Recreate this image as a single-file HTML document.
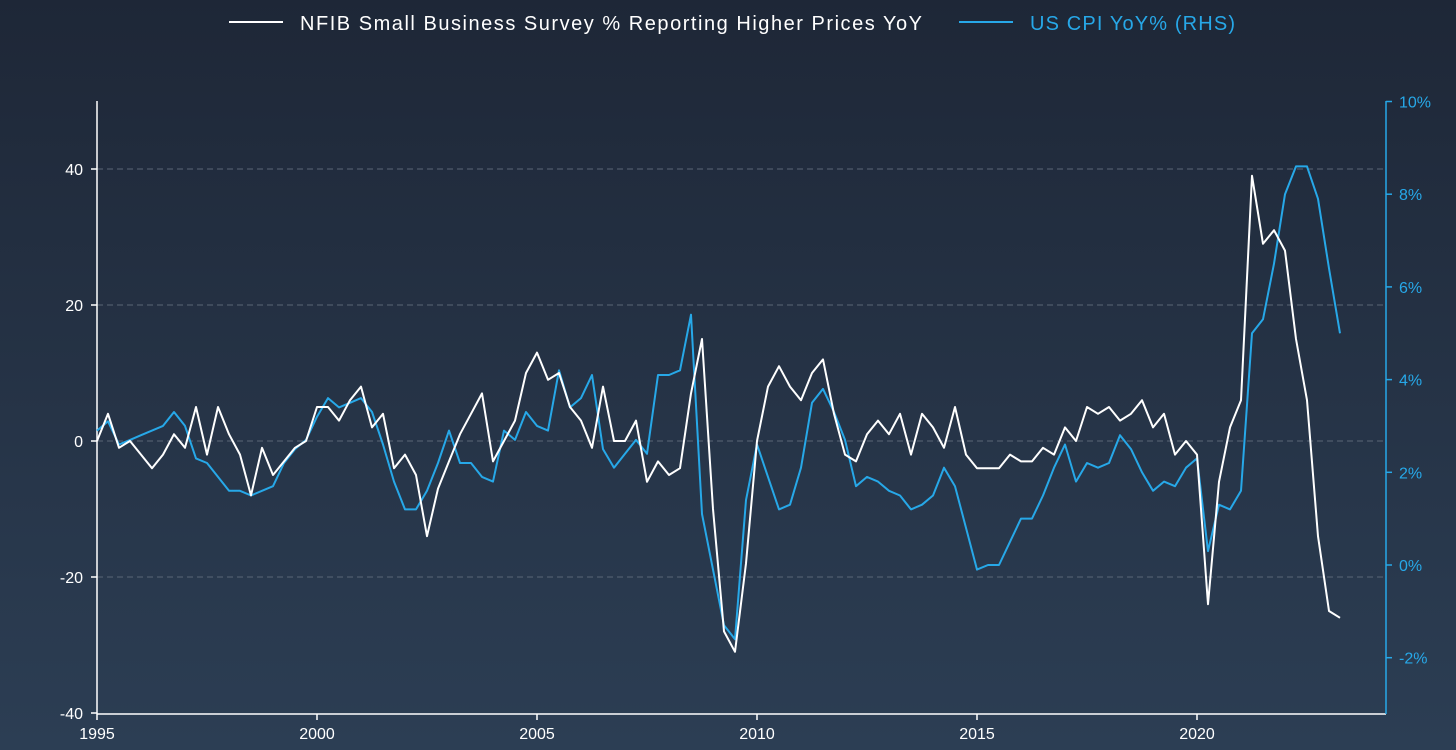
<!DOCTYPE html>
<html><head><meta charset="utf-8"><style>
html,body{margin:0;padding:0;}
body{width:1456px;height:750px;overflow:hidden;background:linear-gradient(#1e2737,#2c3e54);font-family:"Liberation Sans",sans-serif;}
svg{display:block}
</style></head><body>
<svg id="chart" width="1456" height="750" xmlns="http://www.w3.org/2000/svg">
<g id="legend">
<line x1="229" y1="22" x2="283" y2="22" stroke="#fff" stroke-width="2"/>
<text x="300" y="30" fill="#fff" font-size="20" textLength="622" lengthAdjust="spacing">NFIB Small Business Survey % Reporting Higher Prices YoY</text>
<line x1="959" y1="22" x2="1013" y2="22" stroke="#27a8e8" stroke-width="2"/>
<text x="1030" y="30" fill="#27a8e8" font-size="20" textLength="205" lengthAdjust="spacing">US CPI YoY% (RHS)</text>
</g>
<g id="grid"></g>
<g id="axes"></g>
<g id="series"></g>
</svg>
<script>
const startYear = 1995;
const step = 0.25;
const leftTicks = [-40,-20,0,20,40];
const rightTicks = [-2,0,2,4,6,8,10];
const xTicks = [1995,2000,2005,2010,2015,2020];
const nfib = [0,4,-1,0, -2,-4,-2,1, -1,5,-2,5, 1,-2,-8,-1, -5,-3,-1,0, 5,5,3,6, 8,2,4,-4, -2,-5,-14,-7, -3,1,4,7, -3,0,3,10, 13,9,10,5, 3,-1,8,0, 0,3,-6,-3, -5,-4,7,15, -10,-28,-31,-18, 0,8,11,8, 6,10,12,4, -2,-3,1,3, 1,4,-2,4, 2,-1,5,-2, -4,-4,-4,-2, -3,-3,-1,-2, 2,0,5,4, 5,3,4,6, 2,4,-2,0, -2,-24,-6,2, 6,39,29,31, 28,15,6,-14, -25,-26];
const cpi = [2.9,3.1,2.6,2.7, 2.8,2.9,3.0,3.3, 3.0,2.3,2.2,1.9, 1.6,1.6,1.5,1.6, 1.7,2.2,2.5,2.7, 3.2,3.6,3.4,3.5, 3.6,3.3,2.6,1.8, 1.2,1.2,1.6,2.2, 2.9,2.2,2.2,1.9, 1.8,2.9,2.7,3.3, 3.0,2.9,4.2,3.4, 3.6,4.1,2.5,2.1, 2.4,2.7,2.4,4.1, 4.1,4.2,5.4,1.1, -0.1,-1.3,-1.6,1.4, 2.6,1.9,1.2,1.3, 2.1,3.5,3.8,3.3, 2.7,1.7,1.9,1.8, 1.6,1.5,1.2,1.3, 1.5,2.1,1.7,0.8, -0.1,0.0,0.0,0.5, 1.0,1.0,1.5,2.1, 2.6,1.8,2.2,2.1, 2.2,2.8,2.5,2.0, 1.6,1.8,1.7,2.1, 2.3,0.3,1.3,1.2, 1.6,5.0,5.3,6.5, 8.0,8.6,8.6,7.9, 6.4,5.0];

const NS='http://www.w3.org/2000/svg';
const X0=97, X1=1386, Y0=101, Y1=714;
const x = yr => 97 + (yr-1995)*44;
const yL = v => 441 - v*6.8;
const yR = v => 565 - v*46.35;
function mk(tag, attrs, parent){const e=document.createElementNS(NS,tag);for(const k in attrs)e.setAttribute(k,attrs[k]);parent.appendChild(e);return e;}
const grid=document.getElementById('grid'), axes=document.getElementById('axes'), series=document.getElementById('series');

leftTicks.forEach(t=>{
  if(t>-40){const g=mk('line',{x1:X0,x2:X1,y1:yL(t),y2:yL(t),stroke:'#5a6676','stroke-width':1,'stroke-dasharray':'6,4'},grid);
  
  }
  const tk=mk('line',{x1:X0-6,x2:X0,y1:yL(t),y2:yL(t),stroke:'#fff','stroke-width':1.5},axes);
  
  
  const tx=mk('text',{x:X0-14,y:yL(t)+6,fill:'#fff','font-size':16,'text-anchor':'end'},axes);
  tx.textContent=t;
  
  
});
rightTicks.forEach(t=>{
  const tk=mk('line',{x1:X1,x2:X1+6,y1:yR(t),y2:yR(t),stroke:'#27a8e8','stroke-width':1.5},axes);
  
  
  const tx=mk('text',{x:X1+13,y:yR(t)+6,fill:'#27a8e8','font-size':16},axes);
  tx.textContent=t+'%';
  
  
});
xTicks.forEach(t=>{
  const tk=mk('line',{x1:x(t),x2:x(t),y1:Y1,y2:Y1+6,stroke:'#fff','stroke-width':1.5},axes);
  
  
  const tx=mk('text',{x:x(t),y:Y1+25,fill:'#fff','font-size':16,'text-anchor':'middle'},axes);
  tx.textContent=t;
  
  
});
const la=mk('line',{x1:X0,x2:X0,y1:Y0,y2:Y1,stroke:'#fff','stroke-width':1.5},axes);


const ba=mk('line',{x1:X0,x2:X1,y1:Y1,y2:Y1,stroke:'#fff','stroke-width':1.5},axes);


const ra=mk('line',{x1:X1,x2:X1,y1:Y0,y2:Y1,stroke:'#27a8e8','stroke-width':1.5},axes);



const cpiPts=cpi.map((v,i)=>x(startYear+i*step).toFixed(1)+','+yR(v).toFixed(1)).join(' ');
const cl=mk('polyline',{points:cpiPts,fill:'none',stroke:'#27a8e8','stroke-width':2,'stroke-linejoin':'round'},series);


const nPts=nfib.map((v,i)=>x(startYear+i*step).toFixed(1)+','+yL(v).toFixed(1)).join(' ');
const nl=mk('polyline',{points:nPts,fill:'none',stroke:'#fff','stroke-width':2,'stroke-linejoin':'round'},series);


</script>
</body></html>
